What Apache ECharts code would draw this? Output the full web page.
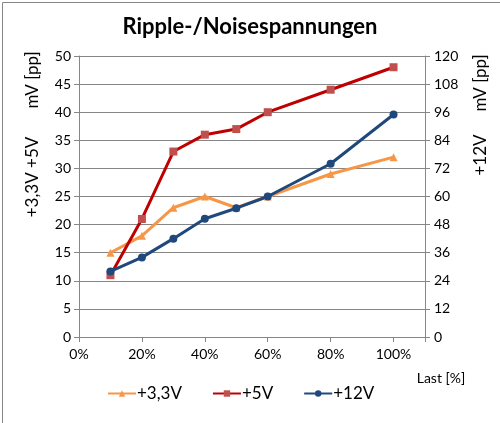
<!DOCTYPE html>
<html><head><meta charset="utf-8">
<script src="https://cdn.jsdelivr.net/npm/echarts@6/dist/echarts.min.js"></script>
<style>html,body{margin:0;padding:0;background:#fff}#c{width:500px;height:423px}</style>
</head><body><div id="c"></div>
<script>
const xValues = [10, 20, 30, 40, 50, 60, 80, 100];
const v33 = [15, 18, 23, 25, 23, 25, 29, 32];
const v5 = [11, 21, 33, 36, 37, 40, 44, 48];
const v12 = [28, 34, 42, 50.5, 55, 60, 74, 95];
const seriesNames = ['+3,3V', '+5V', '+12V'];
const title = 'Ripple-/Noisespannungen';

const font = 'Lato, "Open Sans", sans-serif';
const pair = (vals) => xValues.map((x, i) => [x, vals[i]]);
const chart = echarts.init(document.getElementById('c'), null, {renderer: 'canvas'});
chart.setOption({
  animation: false,
  backgroundColor: '#fff',
  title: {text: title, left: 'center', top: 11,
    textStyle: {fontFamily: font, fontSize: 22, fontWeight: 'bold', color: '#000'}},
  grid: {left: 79, right: 75, top: 56, bottom: 86, containLabel: false},
  xAxis: {type: 'value', min: 0, max: 110, interval: 20,
    axisLine: {show: true, onZero: false, lineStyle: {color: '#868686'}},
    axisTick: {show: true, length: 5, inside: false, lineStyle: {color: '#868686'}},
    splitLine: {show: false},
    axisLabel: {fontFamily: font, fontSize: 14, color: '#000', margin: 10,
      formatter: v => v > 100 ? '' : v + '%'}},
  yAxis: [
    {type: 'value', min: 0, max: 50, interval: 5, position: 'left',
     axisLine: {show: true, lineStyle: {color: '#868686'}},
     axisTick: {show: true, length: 5, lineStyle: {color: '#868686'}},
     splitLine: {show: true, lineStyle: {color: '#868686', width: 1}},
     axisLabel: {fontFamily: font, fontSize: 14, color: '#000', margin: 8}},
    {type: 'value', min: 0, max: 120, interval: 12, position: 'right',
     axisLine: {show: true, lineStyle: {color: '#868686'}},
     axisTick: {show: true, length: 5, lineStyle: {color: '#868686'}},
     splitLine: {show: false},
     axisLabel: {fontFamily: font, fontSize: 14, color: '#000', margin: 9}}
  ],
  legend: {bottom: 16, left: 102, itemGap: 30, itemWidth: 28, itemHeight: 8,
    textStyle: {fontFamily: font, fontSize: 17, color: '#000', padding: [0, 0, 0, -4]},
    data: seriesNames},
  series: [
    {name: seriesNames[0], type: 'line', yAxisIndex: 0, data: pair(v33),
     symbol: 'triangle', symbolSize: 8,
     lineStyle: {color: '#F79646', width: 3},
     itemStyle: {color: '#F79646', borderWidth: 0}},
    {name: seriesNames[1], type: 'line', yAxisIndex: 0, data: pair(v5),
     symbol: 'rect', symbolSize: 8,
     lineStyle: {color: '#C00000', width: 3},
     itemStyle: {color: '#C0504D', borderWidth: 0}},
    {name: seriesNames[2], type: 'line', yAxisIndex: 1, data: pair(v12),
     symbol: 'circle', symbolSize: 8,
     lineStyle: {color: '#1F497D', width: 3},
     itemStyle: {color: '#1F497D', borderWidth: 0}}
  ],
  graphic: [
    {type: 'rect', left: 0, top: 0, shape: {x: 0.5, y: 0.5, width: 499, height: 422},
     style: {fill: null, stroke: '#868686', lineWidth: 1}, silent: true},
    {type: 'text', x: 33, y: 80, rotation: Math.PI / 2,
     style: {text: 'mV [pp]', font: '17px ' + font, fill: '#000', align: 'center', verticalAlign: 'middle'}},
    {type: 'text', x: 33, y: 177, rotation: Math.PI / 2,
     style: {text: '+3,3V +5V', font: '17px ' + font, fill: '#000', align: 'center', verticalAlign: 'middle'}},
    {type: 'text', x: 481, y: 83, rotation: Math.PI / 2,
     style: {text: 'mV [pp]', font: '17px ' + font, fill: '#000', align: 'center', verticalAlign: 'middle'}},
    {type: 'text', x: 481, y: 155, rotation: Math.PI / 2,
     style: {text: '+12V', font: '17px ' + font, fill: '#000', align: 'center', verticalAlign: 'middle'}},
    {type: 'text', x: 441, y: 378,
     style: {text: 'Last [%]', font: '14px ' + font, fill: '#000', align: 'center', verticalAlign: 'middle'}}
  ]
});
</script></body></html>
